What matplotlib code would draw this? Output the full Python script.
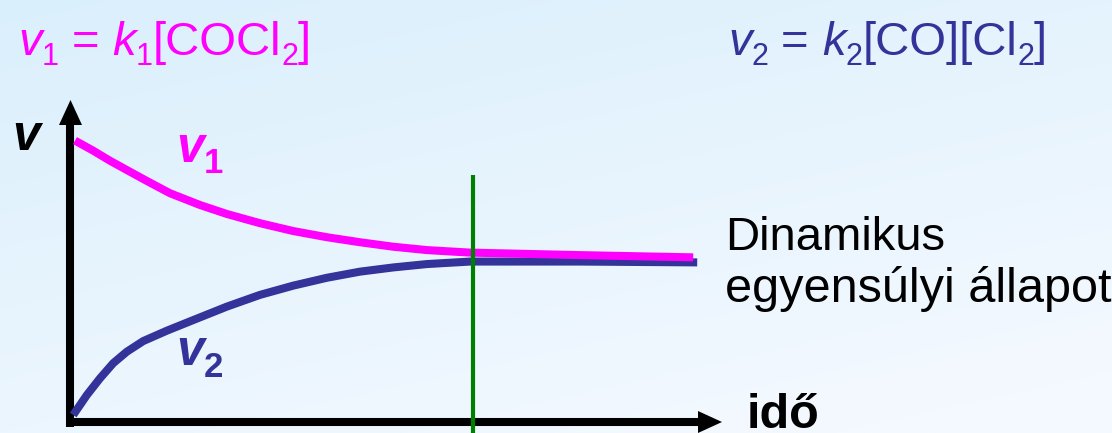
import numpy as np
import matplotlib
matplotlib.use("Agg")
import matplotlib.pyplot as plt

# ---- data: reaction rates over time (arbitrary units) ----
t_v1 = [0.125, 0.58, 1.0, 1.42, 1.92, 2.5, 3.25, 3.92, 4.75, 5.58, 6.42, 7.25,
        8.08, 8.92, 10.0, 12.75, 15.58]
v1 = [10.05, 9.69, 9.33, 9.0, 8.61, 8.17, 7.75, 7.43, 7.10, 6.82, 6.60, 6.42,
      6.26, 6.14, 6.05, 5.96, 5.88]

t_v2 = [0.08, 0.42, 0.75, 1.08, 1.42, 1.83, 2.42, 3.08, 3.92, 4.75, 5.58, 6.42,
        7.25, 8.08, 8.92, 10.0, 12.75, 15.68]
v2 = [0.25, 0.96, 1.56, 2.10, 2.51, 2.89, 3.26, 3.64, 4.12, 4.54, 4.87, 5.15,
      5.37, 5.52, 5.64, 5.73, 5.73, 5.70]

t_equilibrium = 10.075

MAGENTA = "#FF00FF"
NAVY = "#333399"
GREEN = "#008000"
FONT = "Liberation Sans"

W, H = 1112, 433
fig = plt.figure(figsize=(W / 100, H / 100), dpi=100)

# soft light-blue background gradient
bg = fig.add_axes([0, 0, 1, 1])
bg.axis("off")
yy, xx = np.mgrid[0:1:200j, 0:1:400j]
f = np.clip(0.7 * yy + 0.4 * xx, 0, 1)
c0 = np.array([218, 239, 252]) / 255
c1 = np.array([244, 249, 255]) / 255
bg.imshow(c0 + (c1 - c0) * f[..., None], aspect="auto", extent=[0, 1, 0, 1],
          origin="upper", interpolation="bilinear")

ax = fig.add_axes([0, 0, 1, 1])
ax.patch.set_alpha(0)
ax.axis("off")
# origin of the plot sits at pixel (70, 422); 40 px per time unit, 28 px per rate unit
ax.set_xlim(-70 / 40, (W - 70) / 40)
ax.set_ylim((422 - H) / 28, 422 / 28)


def X(px):
    return (px - 70) / 40


def Y(py):
    return (422 - py) / 28


# axes with arrow heads
ax.plot([X(66), X(699)], [0, 0], color="k", lw=5.8, solid_capstyle="butt", zorder=3)
ax.fill([X(698), X(722), X(698)], [Y(411), Y(422), Y(433)], color="k", lw=0, zorder=3)
ax.plot([0, 0], [Y(427), Y(124)], color="k", lw=5.8, solid_capstyle="butt", zorder=3)
ax.fill([X(59), X(70.5), X(82)], [Y(125), Y(100), Y(125)], color="k", lw=0, zorder=3)

# rate curves
ax.plot(t_v2, v2, color=NAVY, lw=5.8, solid_capstyle="butt", solid_joinstyle="round", zorder=4)
ax.plot(t_v1, v1, color=MAGENTA, lw=5.8, solid_capstyle="butt", solid_joinstyle="round", zorder=5)

# equilibrium marker
ax.plot([t_equilibrium, t_equilibrium], [Y(175), Y(440)], color=GREEN, lw=3,
        solid_capstyle="butt", zorder=6)

renderer = fig.canvas.get_renderer()


def rich(parts, color):
    """parts: (text, x_px or None to continue, baseline_px, size, weight, style)"""
    cur = 0
    for s, x, y, size, weight, style in parts:
        if x is None:
            x = cur
        t = fig.text(x / W, 1 - y / H, s, fontsize=size, color=color, family=FONT,
                     weight=weight, style=style, ha="left", va="baseline")
        cur = t.get_window_extent(renderer).x1


rich([("v", 18, 55, 34, "normal", "italic"),
      ("1", None, 65, 22, "normal", "normal"),
      ("=", 72, 55, 34, "normal", "normal"),
      ("k", 112, 55, 34, "normal", "italic"),
      ("1", None, 65, 22, "normal", "normal"),
      ("[COCl", None, 55, 34, "normal", "normal"),
      ("2", None, 65, 22, "normal", "normal"),
      ("]", None, 55, 34, "normal", "normal")], MAGENTA)

rich([("v", 728, 55, 34, "normal", "italic"),
      ("2", None, 65, 22, "normal", "normal"),
      ("=", 781, 55, 34, "normal", "normal"),
      ("k", 822, 55, 34, "normal", "italic"),
      ("2", None, 65, 22, "normal", "normal"),
      ("[CO][Cl", None, 55, 34, "normal", "normal"),
      ("2", None, 65, 22, "normal", "normal"),
      ("]", None, 55, 34, "normal", "normal")], NAVY)

# curve labels
rich([("v", 176, 162, 36, "bold", "italic"),
      ("1", None, 173, 25, "bold", "normal")], MAGENTA)
rich([("v", 176, 365, 36, "bold", "italic"),
      ("2", None, 377, 25, "bold", "normal")], NAVY)

# axis labels
fig.text(12 / W, 1 - 150 / H, "v", fontsize=36, family=FONT, weight="bold",
         style="italic", color="k", ha="left", va="baseline")
fig.text(747 / W, 1 - 428 / H, "idő", fontsize=35, family=FONT, weight="bold",
         color="k", ha="left", va="baseline")

fig.text(725 / W, 1 - 250 / H, "Dinamikus", fontsize=34, family=FONT,
         color="k", ha="left", va="baseline")
fig.text(725 / W, 1 - 302 / H, "egyensúlyi állapot", fontsize=35, family=FONT,
         color="k", ha="left", va="baseline")

fig.savefig("out.png", dpi=100)
